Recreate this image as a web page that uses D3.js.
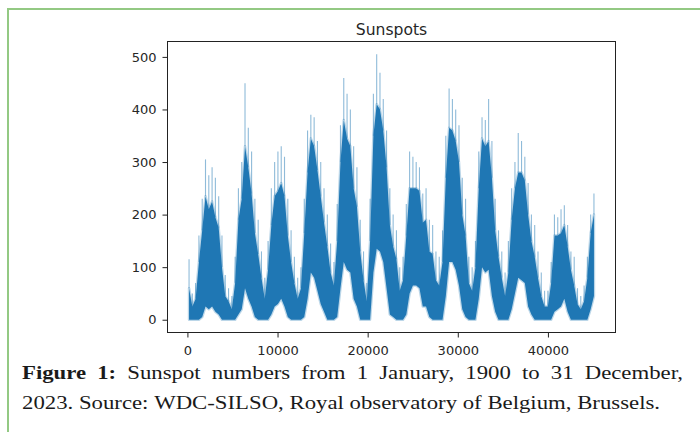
<!DOCTYPE html>
<html>
<head>
<meta charset="utf-8">
<script src="https://cdn.jsdelivr.net/npm/d3@7"></script>
<style>
  html, body { margin: 0; padding: 0; background: #fff; }
  svg { display: block; }
</style>
</head>
<body>
<svg id="chart" width="700" height="432"></svg>
<script>
// Daily sunspot number, 1 Jan 1900 – 31 Dec 2023, summarised per calendar year:
// dailyLow  = lower edge of the dense daily band
// dailyHigh = upper edge of the dense daily band
// dailyPeak = highest single-day value reached in the year
const firstYear = 1900;
const lastYear = 2023;
const years = d3.range(firstYear, lastYear + 1);

const dailyLow = [
  0, 0, 0, 0, 5, 25, 20, 25, 15, 10,
  0, 0, 0, 0, 0, 10, 20, 60, 40, 25,
  5, 0, 0, 0, 0, 10, 25, 30, 40, 25,
  5, 0, 0, 0, 0, 5, 40, 90, 80, 55,
  30, 15, 0, 0, 0, 5, 60, 110, 95, 90,
  40, 25, 0, 0, 0, 0, 90, 135, 130, 110,
  60, 10, 5, 0, 0, 0, 10, 50, 65, 65,
  60, 25, 25, 5, 0, 0, 0, 0, 45, 110,
  110, 95, 65, 20, 5, 0, 0, 0, 40, 100,
  90, 95, 45, 15, 0, 0, 0, 0, 20, 50,
  80, 75, 70, 25, 10, 0, 0, 0, 0, 0,
  0, 15, 20, 25, 40, 15, 0, 0, 0, 0,
  0, 0, 20, 45
];

const dailyHigh = [
  60, 25, 40, 110, 170, 235, 210, 225, 195, 175,
  100, 45, 35, 20, 70, 190, 230, 330, 290, 240,
  165, 125, 80, 40, 95, 180, 235, 245, 260, 235,
  160, 110, 70, 40, 60, 165, 280, 345, 330, 285,
  235, 185, 140, 90, 65, 150, 300, 380, 345, 330,
  250, 215, 130, 75, 35, 150, 350, 410, 400, 360,
  290, 180, 140, 115, 55, 75, 160, 250, 250, 250,
  245, 185, 190, 130, 125, 75, 65, 110, 270, 365,
  360, 340, 300, 200, 160, 70, 55, 100, 250, 345,
  330, 340, 270, 170, 120, 80, 45, 90, 190, 250,
  280, 280, 265, 200, 150, 120, 80, 45, 25, 25,
  70, 160, 160, 165, 180, 140, 95, 65, 30, 20,
  35, 80, 165, 200
];

const dailyPeak = [
  115, 50, 70, 160, 230, 305, 275, 290, 270, 235,
  160, 85, 60, 45, 120, 250, 300, 450, 365, 320,
  230, 190, 130, 80, 150, 250, 300, 320, 330, 310,
  230, 170, 120, 80, 100, 230, 360, 390, 385, 340,
  300, 250, 200, 145, 110, 220, 370, 460, 430, 400,
  330, 290, 190, 130, 70, 230, 430, 505, 470, 420,
  360, 250, 200, 170, 100, 120, 220, 320, 310, 300,
  290, 240, 250, 190, 180, 130, 120, 170, 350, 440,
  420, 400, 370, 270, 230, 120, 100, 150, 320, 385,
  380, 420, 340, 230, 170, 130, 90, 150, 250, 300,
  355, 340, 310, 260, 200, 180, 130, 90, 55, 55,
  110, 200, 195, 210, 218, 180, 130, 120, 60, 45,
  65, 120, 200, 240
];

const xTicks = [0, 10000, 20000, 30000, 40000];
const yTicks = [0, 100, 200, 300, 400, 500];

const titleText = "Sunspots";
const captionLines = [
  { bold: "Figure 1:", text: "Sunspot numbers from 1 January, 1900 to 31 December,", justify: true },
  { bold: "", text: "2023. Source: WDC-SILSO, Royal observatory of Belgium, Brussels.", justify: false }
];

// ---- derived table -------------------------------------------------------
const dayMs = 864e5;
const t0 = Date.UTC(firstYear, 0, 1);
const lastDay = (Date.UTC(lastYear, 11, 31) - t0) / dayMs;
const rows = years.map((yr, i) => ({
  day: (Date.UTC(yr, 6, 2) - t0) / dayMs,
  low: dailyLow[i],
  high: dailyHigh[i],
  peak: dailyPeak[i]
}));

// ---- layout --------------------------------------------------------------
const W = 700, H = 432;
const plot = { left: 167, right: 616, top: 41, bottom: 333 };
const lineColor = "#1f77b4";
const tickFont = "'DejaVu Sans', sans-serif";

const svg = d3.select("#chart");

// page frame (left and top rules)
svg.append("path")
  .attr("d", `M8,${H} V9 H${W}`)
  .attr("fill", "none")
  .attr("stroke", "#93c983")
  .attr("stroke-width", 2);

// scales with matplotlib-like 5% margins
const x = d3.scaleLinear()
  .domain([-0.05 * lastDay, 1.05 * lastDay])
  .range([plot.left, plot.right]);
const yMax = d3.max(dailyPeak);
const y = d3.scaleLinear()
  .domain([-0.05 * yMax, 1.05 * yMax])
  .range([plot.bottom, plot.top]);

svg.append("clipPath").attr("id", "plotClip")
  .append("rect")
  .attr("x", plot.left).attr("y", plot.top)
  .attr("width", plot.right - plot.left)
  .attr("height", plot.bottom - plot.top);

const marks = svg.append("g").attr("clip-path", "url(#plotClip)");

const band = d3.area()
  .x(d => x(d.day))
  .y0(d => y(d.low))
  .y1(d => y(d.high));

// soft fringe around the dense band
marks.append("path")
  .datum(rows)
  .attr("d", band)
  .attr("fill", "none")
  .attr("stroke", lineColor)
  .attr("stroke-width", 2.5)
  .attr("stroke-opacity", 0.3)
  .attr("stroke-linejoin", "round");

// isolated single-day maxima rising above the band
marks.selectAll("line.spike")
  .data(rows)
  .join("line")
  .attr("class", "spike")
  .attr("x1", d => x(d.day)).attr("x2", d => x(d.day))
  .attr("y1", d => y(d.high)).attr("y2", d => y(d.peak))
  .attr("stroke", lineColor)
  .attr("stroke-width", 1.1)
  .attr("stroke-opacity", 0.5);

// dense band of daily values
marks.append("path")
  .datum(rows)
  .attr("d", band)
  .attr("fill", lineColor)
  .attr("stroke", "none");

// ---- axes ----------------------------------------------------------------
const yAxis = svg.append("g")
  .attr("transform", `translate(${plot.left},0)`)
  .call(d3.axisLeft(y).tickValues(yTicks).tickSize(4.5).tickPadding(6).tickFormat(d3.format("d")));
const xAxis = svg.append("g")
  .attr("transform", `translate(0,${plot.bottom})`)
  .call(d3.axisBottom(x).tickValues(xTicks).tickSize(4.5).tickFormat(d3.format("d")));

[yAxis, xAxis].forEach(g => {
  g.select(".domain").remove();
  g.selectAll(".tick line").attr("stroke", "#222").attr("stroke-width", 1);
  g.selectAll(".tick text")
    .attr("fill", "#262626")
    .style("font-family", tickFont)
    .style("font-size", "13px");
});
xAxis.selectAll(".tick text").attr("y", 21.5).attr("dy", 0);

// plot frame
svg.append("rect")
  .attr("x", plot.left + 0.5).attr("y", plot.top + 0.5)
  .attr("width", plot.right - plot.left - 1)
  .attr("height", plot.bottom - plot.top - 1)
  .attr("fill", "none")
  .attr("stroke", "#222")
  .attr("stroke-width", 1);

// title
svg.append("text")
  .attr("x", (plot.left + plot.right) / 2)
  .attr("y", 35)
  .attr("text-anchor", "middle")
  .attr("fill", "#262626")
  .style("font-family", tickFont)
  .style("font-size", "15.6px")
  .text(titleText);

// ---- caption -------------------------------------------------------------
// Set in a book serif; glyphs are widened a little so the unjustified last
// line keeps its printed width, and the first line is justified to the margin.
const capFont = "'Liberation Serif', 'Times New Roman', serif";
const capSize = 19.5;
const capLeft = 22, capRight = 683, line2Width = 638;
const capBaselines = [379.5, 409.5];

const probe = svg.append("text")
  .style("font-family", capFont).style("font-size", capSize + "px")
  .text(captionLines[1].text);
const natural = probe.node().getComputedTextLength();
probe.remove();
const sx = Math.min(1.2, Math.max(1, line2Width / natural));

const cap = svg.append("g")
  .attr("transform", `translate(${capLeft},0) scale(${sx},1)`)
  .attr("fill", "#1a1a1a")
  .style("font-family", capFont).style("font-size", capSize + "px");
const spaceW = capSize * 0.25;

captionLines.forEach((ln, li) => {
  const words = [];
  if (ln.bold) ln.bold.split(" ").forEach(w => words.push({ w, bold: true }));
  ln.text.split(" ").forEach(w => words.push({ w, bold: false }));
  const nodes = words.map(o => cap.append("text")
    .attr("y", capBaselines[li])
    .style("font-weight", o.bold ? "bold" : "normal")
    .text(o.w));
  const widths = nodes.map(n => n.node().getComputedTextLength());
  const total = d3.sum(widths);
  const gap = ln.justify ? ((capRight - capLeft) / sx - total) / (words.length - 1) : spaceW;
  let cx = 0;
  nodes.forEach((n, i) => { n.attr("x", cx); cx += widths[i] + gap; });
});
</script>
</body>
</html>
